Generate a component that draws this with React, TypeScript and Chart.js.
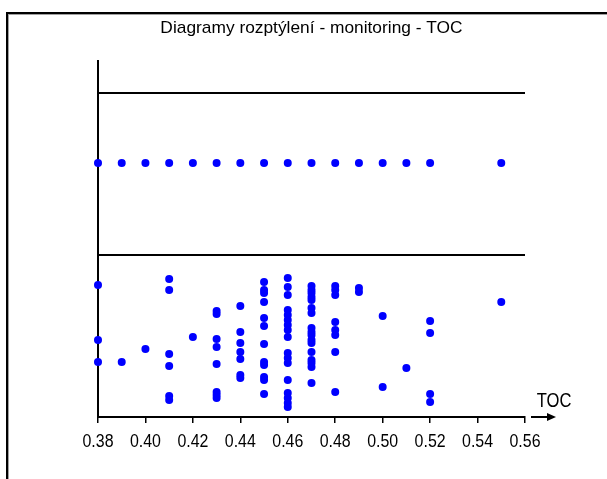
import { useEffect, useRef } from 'react';
import { Chart, registerables } from 'chart.js';

Chart.register(...registerables);

const chartTitle = 'Diagramy rozptýlení - monitoring - TOC';
const axisName = 'TOC';
const xTickValues = [0.38, 0.4, 0.42, 0.44, 0.46, 0.48, 0.5, 0.52, 0.54, 0.56];
const xTickLabels = ['0.38', '0.40', '0.42', '0.44', '0.46', '0.48', '0.50', '0.52', '0.54', '0.56'];

// dot-plot band (one row of all distinct values)
const bandX = [0.38, 0.39, 0.4, 0.41, 0.42, 0.43, 0.44, 0.45, 0.46, 0.47, 0.48, 0.49, 0.5, 0.51, 0.52, 0.55];
const bandLevel = 254;

// separator lines
const upperLine = 324;
const lowerLine = 162;

// scatter (jittered) values per TOC value
const scatterX = [0.38, 0.39, 0.4, 0.41, 0.42, 0.43, 0.44, 0.45, 0.46, 0.47, 0.48, 0.49, 0.5, 0.51, 0.52, 0.55];
const scatterY = [
  [132, 77, 55],
  [55],
  [68],
  [138, 127, 63, 51, 21, 17],
  [80],
  [106, 103, 78, 70, 53, 25, 22, 19],
  [111, 85, 74, 65, 58, 42, 39],
  [135, 127, 124, 115, 99, 91, 73, 55, 52, 40, 37, 23],
  [139, 130, 122, 107, 102, 97, 92, 87, 80, 64, 59, 54, 37, 24, 19, 14, 10],
  [131, 127, 124, 120, 117, 109, 104, 89, 85, 82, 77, 74, 65, 57, 54, 50, 34],
  [131, 127, 122, 95, 87, 82, 65, 25],
  [129, 125],
  [101, 30],
  [49],
  [96, 84, 23, 15],
  [115],
];

const yMin = 0;
const yMax = 356;
const FONT = '"Liberation Sans", Arial, sans-serif';

function drawSquished(ctx: CanvasRenderingContext2D, text: string, cx: number, baseline: number, size: number, sx: number) {
  ctx.save();
  ctx.font = size + 'px ' + FONT;
  ctx.textAlign = 'center';
  ctx.textBaseline = 'alphabetic';
  ctx.translate(cx, baseline);
  ctx.scale(sx, 1);
  ctx.fillText(text, 0, 0);
  ctx.restore();
}

const decorPlugin = {
  id: 'decor',
  afterDraw(chart: any) {
    const { ctx, chartArea } = chart;
    const xs = chart.scales.x;
    ctx.save();
    // outer frame (top + left)
    ctx.fillStyle = '#000';
    ctx.fillRect(6, 12, 607, 2);
    ctx.fillRect(6, 12, 2, 479);
    ctx.fillStyle = '#a0a0a0';
    ctx.fillRect(8, 14, 607, 1);
    ctx.fillRect(8, 14, 1, 479);
    ctx.fillStyle = '#000';
    // title
    drawSquished(ctx, chartTitle, (chartArea.left + chartArea.right) / 2, 33, 17, 1.02);
    // tick labels
    xTickValues.forEach((v, i) => {
      drawSquished(ctx, xTickLabels[i], xs.getPixelForValue(v), chartArea.bottom + 29.5, 18, 0.885);
    });
    // arrow
    const y = chartArea.bottom;
    ctx.strokeStyle = '#000';
    ctx.lineWidth = 2;
    ctx.beginPath();
    ctx.moveTo(chartArea.right + 6, y);
    ctx.lineTo(chartArea.right + 24, y);
    ctx.stroke();
    ctx.beginPath();
    ctx.moveTo(chartArea.right + 31, y);
    ctx.lineTo(chartArea.right + 22, y - 4);
    ctx.lineTo(chartArea.right + 22, y + 4);
    ctx.closePath();
    ctx.fill();
    drawSquished(ctx, axisName, chartArea.right + 29, y - 10.5, 21, 0.79);
    ctx.restore();
  },
};

export default function App() {
  const ref = useRef<HTMLCanvasElement | null>(null);
  useEffect(() => {
    if (!ref.current) return;
    const scatterPoints: { x: number; y: number }[] = [];
    scatterX.forEach((x, i) => scatterY[i].forEach((y) => scatterPoints.push({ x, y })));
    const xMin = xTickValues[0];
    const xMax = xTickValues[xTickValues.length - 1];
    const pointStyle = {
      pointRadius: 4,
      pointHoverRadius: 4,
      pointBackgroundColor: '#0000ff',
      pointBorderWidth: 0,
      showLine: false,
      clip: false as any,
    };
    const chart = new Chart(ref.current, {
      type: 'scatter',
      data: {
        datasets: [
          {
            type: 'line',
            data: [{ x: xMin, y: upperLine }, { x: xMax, y: upperLine }],
            borderColor: '#000',
            borderWidth: 2,
            pointRadius: 0,
          } as any,
          {
            type: 'line',
            data: [{ x: xMin, y: lowerLine }, { x: xMax, y: lowerLine }],
            borderColor: '#000',
            borderWidth: 2,
            pointRadius: 0,
          } as any,
          { data: bandX.map((x) => ({ x, y: bandLevel })), ...pointStyle },
          { data: scatterPoints, ...pointStyle },
        ],
      },
      options: {
        responsive: false,
        animation: false,
        layout: { padding: { top: 61, right: 82, left: 0, bottom: 0 }, autoPadding: false } as any,
        plugins: { legend: { display: false }, tooltip: { enabled: false }, title: { display: false } },
        scales: {
          x: {
            type: 'linear',
            min: xMin,
            max: xMax,
            afterBuildTicks: (s: any) => {
              s.ticks = xTickValues.map((v) => ({ value: v }));
            },
            afterFit: (s: any) => {
              s.height = 62;
            },
            ticks: { display: false },
            grid: { drawOnChartArea: false, drawTicks: true, tickLength: 6, color: '#000', lineWidth: 1.5 },
            border: { display: true, color: '#000', width: 2 },
          },
          y: {
            type: 'linear',
            min: yMin,
            max: yMax,
            afterFit: (s: any) => {
              s.width = 98;
            },
            ticks: { display: false },
            grid: { display: false },
            border: { display: true, color: '#000', width: 2 },
          },
        },
      },
      plugins: [decorPlugin],
    });
    return () => chart.destroy();
  }, []);
  return (
    <div style={{ position: 'fixed', left: 0, top: 0, width: 607, height: 479, background: '#fff' }}>
      <canvas ref={ref} width={607} height={479} style={{ width: 607, height: 479 }} />
    </div>
  );
}
